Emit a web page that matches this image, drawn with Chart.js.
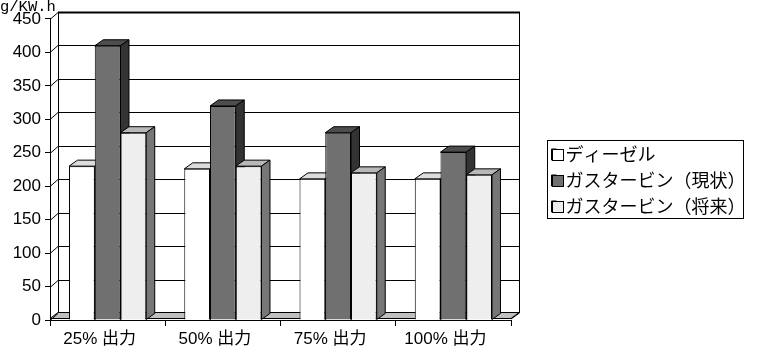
<!DOCTYPE html>
<html>
<head>
<meta charset="utf-8">
<style>
html, body { margin: 0; padding: 0; background: #fff; }
#wrap { position: relative; width: 758px; height: 361px; }
</style>
</head>
<body>
<div id="wrap"><canvas id="myChart" width="758" height="361"></canvas></div>
<script src="https://cdn.jsdelivr.net/npm/chart.js@4"></script>
<script>
var categories = ["25% 出力", "50% 出力", "75% 出力", "100% 出力"];
var seriesNames = ["ディーゼル", "ガスタービン（現状）", "ガスタービン（将来）"];
var diesel = [230, 226, 211, 211];
var gasNow = [410, 320, 280, 251];
var gasFuture = [280, 230, 220, 217];
var unitLabel = "g/KW.h";

var frontColors = ["#ffffff", "#707070", "#eeeeee"];
var topColors = ["#dddddd", "#4d4d4d", "#b8b8b8"];
var sideColors = ["#808080", "#333333", "#777777"];
var textFont = '"Liberation Sans", "Noto Sans CJK JP", sans-serif';

// the 3d look: how far the back wall and the bar tops are pushed away
var wallX = 8, wallY = 7;
var barX = 8.5, barY = 6;

var legendFont = 18, legendGap = 8;

function poly(ctx, pts, fill) {
  ctx.beginPath();
  ctx.moveTo(pts[0][0], pts[0][1]);
  for (var i = 1; i < pts.length; i++) ctx.lineTo(pts[i][0], pts[i][1]);
  ctx.closePath();
  ctx.fillStyle = fill;
  ctx.fill();
  ctx.stroke();
}

var depthPlugin = {
  id: "depth",
  afterLayout: function (chart) {
    // legend sits further right and lower than the layout puts it
    var lg = chart.legend;
    lg.left += 32.5; lg.right += 32.5;
    lg.top += 7; lg.bottom += 7;
  },
  beforeDatasetsDraw: function (chart) {
    var ctx = chart.ctx, a = chart.chartArea, y = chart.scales.y;
    ctx.save();
    ctx.strokeStyle = "#000";
    ctx.lineWidth = 1;

    // floor
    poly(ctx, [[a.left, a.bottom - 1.5], [a.left + wallX, a.bottom - wallY - 0.5], [a.right + wallX, a.bottom - wallY - 0.5], [a.right, a.bottom - 1.5]], "#c0c0c0");

    // back wall lines, one per tick
    y.ticks.forEach(function (t, i) {
      var py = Math.round(y.getPixelForTick(i)) + 0.5;
      ctx.beginPath();
      ctx.moveTo(a.left, py);
      ctx.lineTo(a.left + wallX, py - wallY);
      if (i > 0) ctx.lineTo(a.right + wallX, py - wallY);
      ctx.stroke();
    });
    var topY = Math.round(y.getPixelForValue(y.max)) - wallY;
    ctx.beginPath();
    ctx.moveTo(a.left + wallX + 0.5, topY);
    ctx.lineTo(a.left + wallX + 0.5, a.bottom - wallY);
    ctx.moveTo(a.right + wallX + 0.5, topY);
    ctx.lineTo(a.right + wallX + 0.5, a.bottom - wallY);
    ctx.moveTo(a.right + wallX + 0.5, a.bottom - wallY);
    ctx.lineTo(a.right, a.bottom - 1);
    ctx.stroke();
    ctx.lineWidth = 2;
    ctx.beginPath();
    ctx.moveTo(a.left + wallX, topY + 0.5);
    ctx.lineTo(a.right + wallX + 1, topY + 0.5);
    ctx.stroke();
    ctx.lineWidth = 1;

    // bars in dataset order, so each one covers the side of the one before
    for (var d = 0; d < chart.data.datasets.length; d++) {
      var bars = chart.getDatasetMeta(d).data;
      bars.forEach(function (b) {
        var half = b.width / 2, l = b.x - half, r = b.x + half;
        poly(ctx, [[l, b.y], [l + barX, b.y - barY], [r + barX, b.y - barY], [r, b.y]], topColors[d]);
        poly(ctx, [[r, b.y], [r + barX, b.y - barY], [r + barX, b.base - barY], [r, b.base]], sideColors[d]);
        b.draw(ctx);
      });
    }
    ctx.restore();
  },
  beforeDatasetDraw: function () {
    return false; // already drawn above
  },
  afterDraw: function (chart) {
    var ctx = chart.ctx, lg = chart.legend;
    // same sums the legend uses to place its rows
    var x0 = Math.round(lg.left + legendGap);
    var firstRow = (lg.top + legendGap + lg.bottom - lg.columnSizes[0].height) / 2 + legendFont / 2;
    ctx.save();
    ctx.strokeStyle = "#000";
    ctx.lineWidth = 1;
    // legend frame and the square swatches
    ctx.strokeRect(x0 - 5 + 0.5, Math.round(firstRow) - 15 + 0.5, 196, 78);
    seriesNames.forEach(function (n, i) {
      var cy = Math.round(firstRow + i * (legendFont + legendGap));
      ctx.fillStyle = frontColors[i];
      ctx.fillRect(x0 + 0.5, cy - 5.5, 11, 11);
      ctx.strokeRect(x0 + 0.5, cy - 5.5, 11, 11);
    });
    ctx.restore();
  }
};

var ctx = document.getElementById("myChart").getContext("2d");
var values = [diesel, gasNow, gasFuture];
var chart = new Chart(ctx, {
  type: "bar",
  data: {
    labels: categories,
    datasets: seriesNames.map(function (name, i) {
      return {
        label: name,
        data: values[i],
        backgroundColor: frontColors[i],
        borderColor: "#000",
        borderWidth: 1,
        barPercentage: 1,
        categoryPercentage: 0.67
      };
    })
  },
  plugins: [depthPlugin],
  options: {
    responsive: false,
    animation: false,
    layout: { padding: { left: 0, top: 0, right: 47, bottom: 14 } },
    plugins: {
      tooltip: { enabled: false },
      title: {
        display: true,
        text: unitLabel,
        align: "start",
        color: "#000",
        font: { family: '"Liberation Mono", monospace', size: 15.5, weight: "normal" },
        padding: { top: -2, bottom: 2.4 }
      },
      legend: {
        position: "right",
        maxWidth: 200,
        labels: {
          color: "#000",
          boxWidth: 5,
          boxHeight: 11,
          padding: legendGap,
          font: { family: '"Noto Sans CJK JP", sans-serif', size: legendFont }
        }
      }
    },
    scales: {
      x: {
        afterFit: function (s) { s.height = 27; },
        border: { color: "#000", width: 1 },
        grid: { color: "#000", drawOnChartArea: false, tickLength: 6 },
        ticks: { color: "#000", labelOffset: -8, padding: 3, maxRotation: 0, font: { family: textFont, size: 17 } }
      },
      y: {
        min: 0,
        max: 450,
        afterFit: function (s) { s.width = 50; },
        border: { color: "#000", width: 1 },
        grid: { color: "#000", drawOnChartArea: false, tickLength: 5 },
        ticks: { color: "#000", stepSize: 50, padding: 4, font: { family: textFont, size: 17 } }
      }
    }
  }
});
</script>
</body>
</html>
